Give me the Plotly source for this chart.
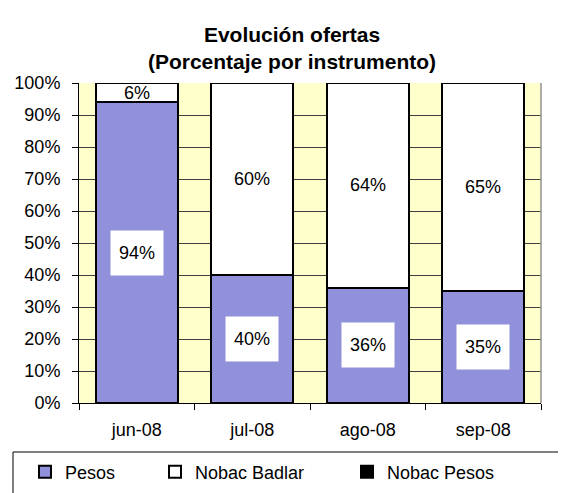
import plotly.graph_objects as go

categories = ["jun-08", "jul-08", "ago-08", "sep-08"]
pesos = [94, 40, 36, 35]
nobac_badlar = [6, 60, 64, 65]
nobac_pesos = [0, 0, 0, 0]
y_ticks = [0, 10, 20, 30, 40, 50, 60, 70, 80, 90, 100]
y_tick_labels = [f"{v}%" for v in y_ticks]

FONT = "Liberation Sans, Arial, sans-serif"

fig = go.Figure()
fig.add_trace(go.Bar(
    x=categories, y=pesos, name="Pesos", legend="legend", showlegend=True,
    marker=dict(color="white", line=dict(color="black", width=2),
                pattern=dict(shape=".", size=2, solidity=1.0, fgcolor="#2424B8", bgcolor="white")),
))
fig.add_trace(go.Bar(
    x=categories, y=nobac_badlar, name="Nobac Badlar", legend="legend2", showlegend=True,
    marker=dict(color="white", line=dict(color="black", width=2)),
))
fig.add_trace(go.Bar(
    x=categories, y=nobac_pesos, name="Nobac Pesos", legend="legend3", showlegend=True,
    marker=dict(color="black", line=dict(color="black", width=2)),
))

annotations = []
for c, p, b in zip(categories, pesos, nobac_badlar):
    annotations.append(dict(x=c, y=p / 2, xref="x", yref="y", text=f"{p}%", showarrow=False,
                            font=dict(family=FONT, size=18, color="black"),
                            bgcolor="white", width=50, height=42))
    annotations.append(dict(x=c, y=p + b / 2, xref="x", yref="y", text=f"{b}%", showarrow=False,
                            font=dict(family=FONT, size=18, color="black")))

# page body has an 8px margin: positions below are in screen px, shifted by OFF
OFF = 8
W, H = 566, 493
L = 79 - OFF
T = 83 - OFF
R = W - (541 - OFF)
B = H - (403 - OFF)
PW, PH = W - L - R, H - T - B

def px_x(px):
    return (px - OFF - L) / PW

def px_y(py):
    return (H - B - (py - OFF)) / PH

legend_common = dict(orientation="h", yanchor="middle", xanchor="left",
                     xref="container", yref="container", y=1 - (472 - OFF) / H,
                     font=dict(family=FONT, size=18, color="black"), bgcolor="rgba(0,0,0,0)",
                     borderwidth=0)

fig.update_layout(
    width=W, height=H,
    margin=dict(l=L, r=R, t=T, b=B, autoexpand=False),
    paper_bgcolor="white",
    plot_bgcolor="#FFFFCC",
    barmode="stack",
    bargap=0.29,
    showlegend=True,
    title=dict(text="<b>Evolución ofertas<br>(Porcentaje por instrumento)</b>",
               x=(292 - OFF) / W, xanchor="center", xref="container",
               y=1 - (42 - OFF) / H, yanchor="middle", yref="container",
               font=dict(family=FONT, size=21, color="black")),
    xaxis=dict(showgrid=False, ticks="outside", tickson="boundaries", ticklen=6,
               tickcolor="black", showline=True, linecolor="black", linewidth=1,
               tickfont=dict(family=FONT, size=18, color="black"), ticklabelstandoff=10),
    yaxis=dict(range=[0, 100], tickvals=y_ticks, ticktext=y_tick_labels, showgrid=True,
               gridcolor="#404040", gridwidth=1, ticks="outside", ticklen=6, tickcolor="black",
               showline=True, linecolor="black", linewidth=1, zeroline=False,
               tickfont=dict(family=FONT, size=18, color="black"), ticklabelstandoff=8),
    legend=dict(x=(25 - OFF) / W, **legend_common),
    legend2=dict(x=(155 - OFF) / W, **legend_common),
    legend3=dict(x=(347 - OFF) / W, **legend_common),
    annotations=annotations,
    shapes=[
        dict(type="line", xref="paper", yref="paper", x0=1, x1=1, y0=0, y1=1,
             line=dict(color="#909090", width=1.5)),
        dict(type="rect", xref="paper", yref="paper", x0=px_x(13), x1=px_x(620),
             y0=px_y(452), y1=px_y(530), line=dict(color="black", width=1), layer="below"),
    ],
)

fig.write_html("out.html")
